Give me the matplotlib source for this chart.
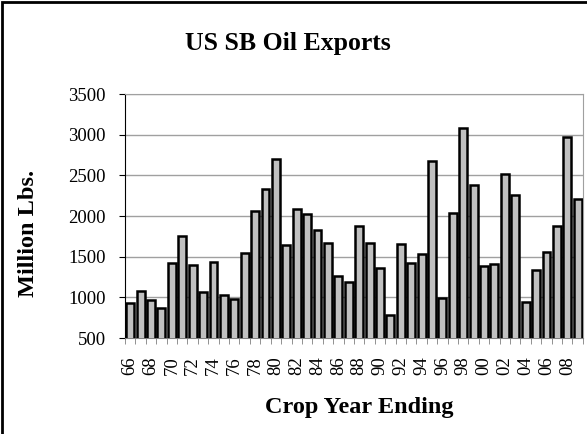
import numpy as np
import matplotlib.pyplot as plt
from matplotlib.patches import Rectangle

plt.rcParams['font.family'] = ['Liberation Serif', 'DejaVu Serif']

years = ['66', '67', '68', '69', '70', '71', '72', '73', '74', '75', '76', '77', '78', '79',
         '80', '81', '82', '83', '84', '85', '86', '87', '88', '89', '90', '91', '92', '93',
         '94', '95', '96', '97', '98', '99', '00', '01', '02', '03', '04', '05', '06', '07',
         '08', '09']
exports = [926, 1082, 967, 869, 1426, 1750, 1402, 1070, 1438, 1029, 980, 1549, 2061, 2336,
           2697, 1639, 2086, 2029, 1828, 1664, 1262, 1193, 1877, 1664, 1356, 779, 1652, 1426,
           1537, 2684, 992, 2041, 3082, 2377, 1381, 1410, 2516, 2266, 943, 1332, 1557, 1881,
           2975, 2205]

fig = plt.figure(figsize=(5.87, 4.34), dpi=100)
ax = fig.add_axes([0.213, 0.221, 0.78, 0.562])

x = np.arange(len(years))
ax.bar(x, exports, width=0.76, color='#C0C0C0', edgecolor='black', linewidth=1.8, zorder=3)

ax.set_ylim(500, 3500)
ax.set_yticks(range(500, 3501, 500))
ax.set_xlim(-0.5, len(years) - 0.5)
ax.set_xticks(x[::2])
ax.set_xticklabels(years[::2], rotation=90, fontsize=13.5)
ax.set_xticks(np.arange(-0.5, len(years), 1), minor=True)
ax.tick_params(axis='x', which='major', length=0, pad=13)
ax.tick_params(axis='x', which='minor', length=4, color='#808080')
ax.tick_params(axis='y', labelsize=13.5, length=4, pad=10)

ax.yaxis.grid(True, color='#A0A0A0', linewidth=1, zorder=0)
for s in ['top', 'right']:
    ax.spines[s].set_color('#A0A0A0')
ax.spines['bottom'].set_color('#808080')
ax.spines['left'].set_color('black')

fig.text(0.491, 0.90, 'US SB Oil Exports', ha='center', va='center', fontsize=18.5, fontweight='bold')
fig.text(0.612, 0.06, 'Crop Year Ending', ha='center', va='center', fontsize=17.5, fontweight='bold')
fig.text(0.049, 0.461, 'Million Lbs.', ha='center', va='center', rotation=90,
         fontsize=17.5, fontweight='bold')

fig.add_artist(Rectangle((0.003, -0.01), 1.2, 1.005, transform=fig.transFigure,
                         fill=False, edgecolor='black', linewidth=2))

fig.savefig('out.png', dpi=100)
